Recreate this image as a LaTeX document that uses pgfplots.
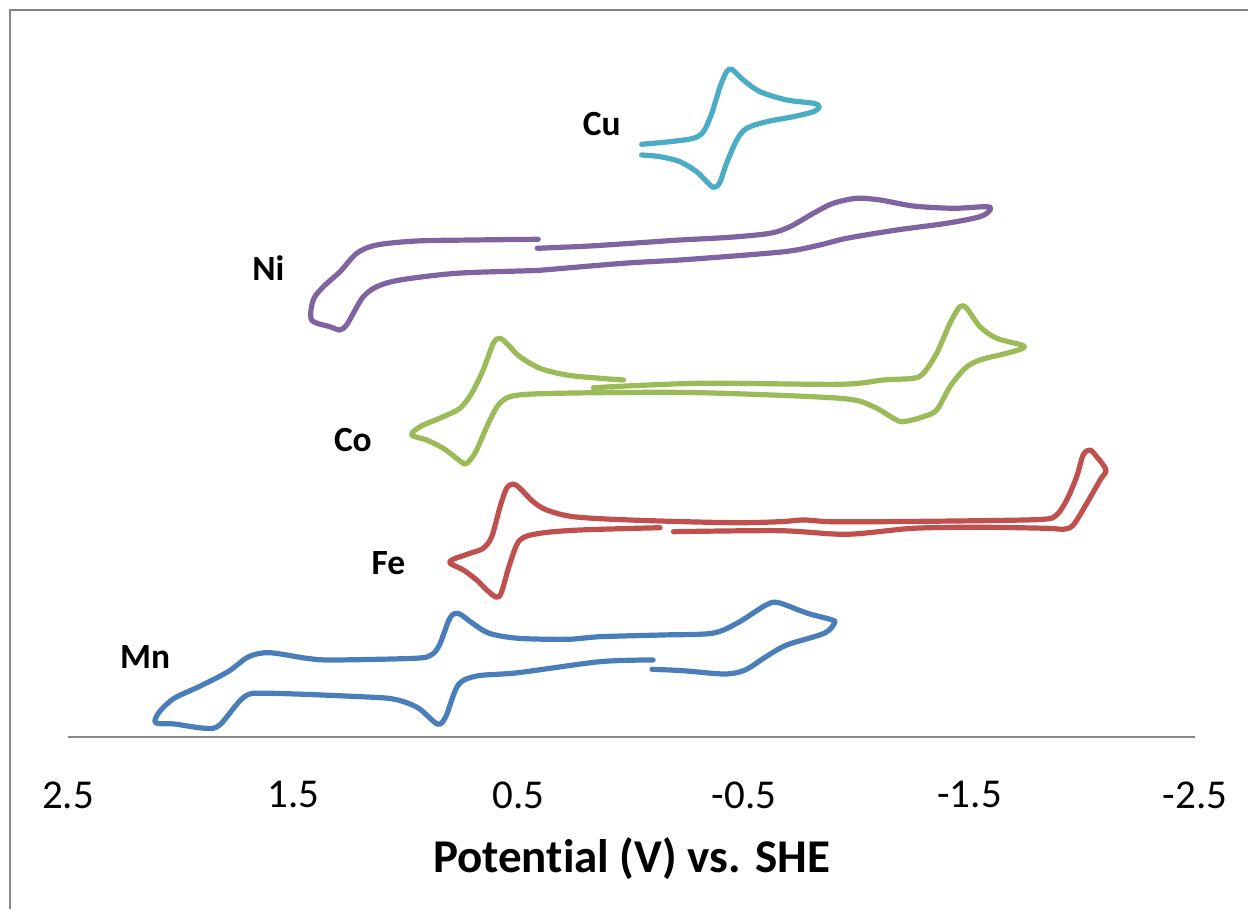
\documentclass[border=0pt]{standalone}
\usepackage{pgfplots}
\pgfplotsset{compat=1.18}
\usepackage{fontspec}
\setmainfont{Carlito}[Ligatures=NoCommon]
\definecolor{cuC}{HTML}{4BACC6}
\definecolor{niC}{HTML}{8064A2}
\definecolor{coC}{HTML}{9BBB59}
\definecolor{feC}{HTML}{C0504D}
\definecolor{mnC}{HTML}{4A7EBB}
\definecolor{axC}{HTML}{868686}
\begin{document}
\begin{tikzpicture}
\useasboundingbox (0,0) rectangle (624pt,454.5pt);
\draw[axC, line width=0.9pt] (5pt,0) -- (5pt,449.5pt) -- (624pt,449.5pt);
\begin{axis}[
  at={(34pt,86pt)}, anchor=south west,
  scale only axis, width=563.5pt, height=363.5pt,
  x dir=reverse, xmin=-2.5, xmax=2.5, ymin=0, ymax=727,
  hide y axis, axis x line*=bottom,
  x axis line style={-, draw=axC, line width=1pt},
  major tick length=0pt,
  xtick={-2.5,-1.5,-0.5,0.5,1.5,2.5},
  xticklabels={-2.5,-1.5,-0.5,0.5,1.5,2.5},
  xticklabel style={font=\fontsize{20.5}{24}\selectfont, anchor=north, inner sep=0pt, yshift=-22pt},
  xlabel={Potential (V) vs. SHE},
  xlabel style={font=\fontsize{23.5}{28}\selectfont\bfseries, at={(axis description cs:0.5,0)}, anchor=north, inner sep=0pt, yshift=-50pt, xshift=0pt},
  clip=false,
  every axis plot/.append style={line width=2.6pt, smooth, line join=round, line cap=round, mark=none},
]
% Cu
\addplot[cuC] coordinates {
(-0.045,582) (-0.127,580.3) (-0.215,575.3) (-0.289,565.3) (-0.334,555.3) (-0.363,549.7)
(-0.390,553.7) (-0.422,573.7) (-0.467,597) (-0.511,608.7) (-0.600,615.3) (-0.718,620.3)
(-0.807,625.3) (-0.833,630.3) (-0.807,633.7) (-0.689,637) (-0.570,645.3) (-0.496,657)
(-0.445,667.7) (-0.422,665.3) (-0.393,650.3) (-0.356,623.7) (-0.319,605.3) (-0.274,598.7)
(-0.171,595.3) (-0.045,592.7)
};
% Ni
\addplot[niC] coordinates {
(0.418,488.7) (0.184,491) (-0.038,494.3) (-0.215,497) (-0.437,499.7) (-0.614,503.7)
(-0.703,510.3) (-0.807,523.7) (-0.895,533.7) (-0.999,538.7) (-1.103,537) (-1.250,531)
(-1.428,528.7) (-1.576,530.3) (-1.591,527) (-1.546,520.3) (-1.398,513.7) (-1.177,507)
(-0.955,498.7) (-0.836,492) (-0.703,486) (-0.511,482) (-0.215,477) (0.036,473.7)
(0.391,467) (0.450,466.3) (0.776,463.7) (1.027,457) (1.130,450.3) (1.190,440.3)
(1.234,423.7) (1.264,412) (1.293,407) (1.338,410.3) (1.419,417) (1.412,437)
(1.367,450.3) (1.293,465.3) (1.219,483.7) (1.130,492) (0.953,496) (0.702,497) (0.414,497.7)
};
% Co
\addplot[coC] coordinates {
(0.169,349.3) (-0.304,353.7) (-0.925,352.7) (-1.117,357) (-1.250,358.7) (-1.295,363.7)
(-1.354,383.7) (-1.413,413.7) (-1.457,430.3) (-1.487,428.7) (-1.546,410.3) (-1.620,398.7)
(-1.731,392) (-1.736,388.7) (-1.665,383.7) (-1.546,377) (-1.480,368.7) (-1.413,350.3)
(-1.354,327) (-1.295,320.3) (-1.206,315.3) (-1.162,318.7) (-1.073,330.3) (-0.925,338.7)
(-0.304,344.3) (0.140,344.3) (0.436,343) (0.539,340.3) (0.591,332) (0.635,313.7)
(0.687,287) (0.716,277) (0.739,273) (0.776,278.7) (0.835,288.7) (0.909,297)
(0.975,302) (0.938,310.3) (0.835,320.3) (0.761,328.7) (0.709,343.7) (0.658,367)
(0.613,393.7) (0.583,398.7) (0.547,392) (0.495,380.3) (0.406,368.7) (0.288,362)
(0.140,358.7) (0.036,357)
};
% Fe
\addplot[feC] coordinates {
(-0.186,205.3) (-0.659,206.3) (-0.955,202.7) (-1.250,208.7) (-1.546,209.7) (-1.842,208.7)
(-1.916,207.7) (-1.960,212) (-2.020,233.7) (-2.079,257) (-2.105,267) (-2.064,280.3)
(-2.034,287) (-2.004,282) (-1.975,260.3) (-1.931,237) (-1.886,222) (-1.827,217.7)
(-1.546,216.3) (-1.103,215.3) (-0.881,215.3) (-0.762,217) (-0.659,215.3) (-0.437,214.3)
(0.007,217) (0.258,220.3) (0.376,227) (0.436,235.3) (0.495,248.7) (0.524,253)
(0.554,248.7) (0.583,230.3) (0.620,200.3) (0.658,188.7) (0.716,183.7) (0.791,177.7)
(0.805,173.7) (0.746,167) (0.687,157) (0.642,147) (0.598,139.7) (0.576,145.3)
(0.539,173.7) (0.495,197) (0.406,203.7) (0.228,207) (-0.127,209.3)
};
% Mn
\addplot[mnC] coordinates {
(-0.091,67.7) (-0.229,66.3) (-0.413,63) (-0.504,67) (-0.597,80.3) (-0.689,92)
(-0.855,103.7) (-0.900,113.7) (-0.891,117) (-0.781,123.7) (-0.652,134.3) (-0.597,132)
(-0.468,113.7) (-0.357,103.7) (-0.136,102) (0.140,100.3) (0.282,97.7) (0.503,98.7)
(0.631,103.7) (0.705,113.7) (0.769,123.7) (0.806,118.7) (0.852,92) (0.889,82)
(0.962,78.7) (1.330,77) (1.441,78.7) (1.606,84.3) (1.698,80.3) (1.790,65.3)
(1.919,50.3) (2.029,38.7) (2.094,25.3) (2.112,14.3) (2.029,13) (1.891,8.7)
(1.827,12) (1.717,40.3) (1.606,43.7) (1.146,39.7) (1.036,37) (0.944,28.7)
(0.861,13) (0.824,20.3) (0.769,52) (0.686,61) (0.503,64.3) (0.140,75.3) (-0.096,77)
};
\node[font=\fontsize{17.7}{20}\selectfont\bfseries] at (axis cs:0.132,613) {Cu};
\node[font=\fontsize{17.7}{20}\selectfont\bfseries] at (axis cs:1.611,468.7) {Ni};
\node[font=\fontsize{17.7}{20}\selectfont\bfseries] at (axis cs:1.236,297) {Co};
\node[font=\fontsize{17.7}{20}\selectfont\bfseries] at (axis cs:1.078,174) {Fe};
\node[font=\fontsize{17.7}{20}\selectfont\bfseries] at (axis cs:2.158,80) {Mn};
\end{axis}
\end{tikzpicture}
\end{document}
